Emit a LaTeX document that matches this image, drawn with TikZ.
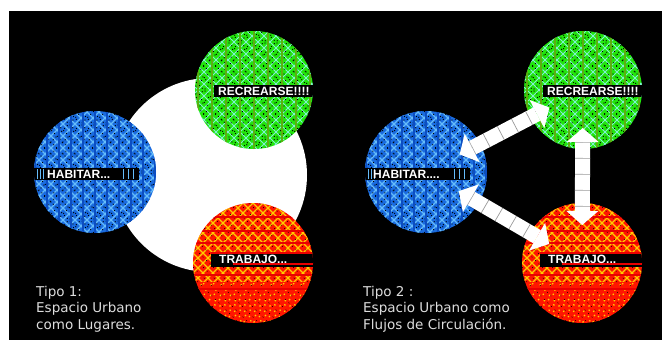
\documentclass[tikz,border=0pt]{standalone}
\usepackage{fontspec}
\usetikzlibrary{calc}
\newfontfamily\capfont{DejaVu Sans}
\newfontfamily\labfont{Liberation Sans}

\definecolor{grbase}{HTML}{22E60C}
\definecolor{grlight}{HTML}{7FF0D2}
\definecolor{grstripe}{HTML}{5CAE12}
\definecolor{blbase}{HTML}{1A6CE0}
\definecolor{bllight}{HTML}{66BCFA}
\definecolor{blstripe}{HTML}{0C4EC2}
\definecolor{rdbase}{HTML}{FF1600}
\definecolor{rdlight}{HTML}{FFCC00}
\definecolor{rdstripe}{HTML}{E80000}
\definecolor{capgray}{HTML}{DDDDDD}
\definecolor{sepgray}{HTML}{9A9A9A}

% green weave: cyan cross-hatch, olive vertical stripes
\newcommand\greenweave{%
  \begin{scope}[shift={(path picture bounding box.center)}]
    \fill[grbase] (-70,-70) rectangle (70,70);
    \foreach \k in {-140,-128,...,140}{
      \draw[grlight, line width=1pt] (\k-70,-70) -- (\k+70,70);
      \draw[grlight, line width=1pt] (\k-70,70) -- (\k+70,-70);}
    \foreach \k in {-134,-122,...,140}{
      \draw[black, line width=0.8pt, dash pattern=on 1pt off 3pt] (\k-70,-70) -- (\k+70,70);
      \draw[black, line width=0.8pt, dash pattern=on 1pt off 3pt] (\k-70,70) -- (\k+70,-70);}
    \foreach \k in {-56,-42,...,56} \draw[grstripe, line width=2.4pt] (\k,-70) -- (\k,70);
    \fill[black] (-40,-5) rectangle (70,7);
  \end{scope}}

% blue weave: light blue cross-hatch, dark blue vertical stripes
\newcommand\blueweave{%
  \begin{scope}[shift={(path picture bounding box.center)}]
    \fill[blbase] (-70,-70) rectangle (70,70);
    \foreach \k in {-140,-128,...,140}{
      \draw[bllight, line width=1.1pt] (\k-70,-70) -- (\k+70,70);
      \draw[bllight, line width=1.1pt] (\k-70,70) -- (\k+70,-70);}
    \foreach \k in {-134,-122,...,140}{
      \draw[black, line width=0.8pt, dash pattern=on 1pt off 3pt] (\k-70,-70) -- (\k+70,70);
      \draw[black, line width=0.8pt, dash pattern=on 1pt off 3pt] (\k-70,70) -- (\k+70,-70);}
    \foreach \k in {-60,-48,...,60} \draw[blstripe, line width=2.4pt] (\k,-70) -- (\k,70);
    \fill[black] (-62,-4) rectangle (44,8);
    \foreach \k in {-58,-55,-52,28,33,38} \draw[bllight, line width=0.8pt] (\k,-3) -- (\k,7);
  \end{scope}}

% red weave: yellow cross-hatch on top, red horizontal stripes
\newcommand\redweave{%
  \begin{scope}[shift={(path picture bounding box.center)}]
    \fill[rdbase] (-70,-70) rectangle (70,70);
    \begin{scope}
      \clip (-70,-70) rectangle (70,18);
      \foreach \k in {-140,-130,...,140}{
        \draw[rdlight, line width=1.3pt] (\k-70,-70) -- (\k+70,70);
        \draw[rdlight, line width=1.3pt] (\k-70,70) -- (\k+70,-70);}
    \end{scope}
    \begin{scope}
      \clip (-70,18) rectangle (70,70);
      \foreach \k in {-140,-130,...,140}{
        \draw[rdlight, line width=1.1pt, dash pattern=on 1.5pt off 6pt] (\k-70,-70) -- (\k+70,70);
        \draw[rdlight, line width=1.1pt, dash pattern=on 1.5pt off 6pt] (\k-70,70) -- (\k+70,-70);}
    \end{scope}
    \foreach \k in {-134,-124,...,140}{
      \draw[black, line width=0.7pt, dash pattern=on 1pt off 4pt] (\k-70,-70) -- (\k+70,70);}
    \foreach \y in {-46,-32,-20,12,26} \draw[rdstripe, line width=2.2pt] (-70,\y) -- (70,\y);
    \fill[black] (-42,-11) rectangle (70,4);
    \draw[rdstripe, line width=1.4pt] (-42,-10) -- (70,-10);
    \draw[rdstripe, line width=1.4pt] (-20,1) -- (70,1);
  \end{scope}}

\tikzset{
  zone/.style={circle, inner sep=0pt, minimum size=#1},
  greenzone/.style={zone=118pt, path picture={\greenweave}},
  bluezone/.style={zone=122pt, path picture={\blueweave}},
  redzone/.style={zone=120pt, path picture={\redweave}},
  lab/.style={text=white, inner sep=0pt, anchor=west,
    font=\labfont\bfseries\fontsize{12}{12}\selectfont},
  caption/.style={anchor=base west, inner sep=0pt, text=capgray,
    font=\capfont\fontsize{13.5}{16}\selectfont},
  chainband/.style={white, line width=15pt},
  chainsep/.style={sepgray, line width=15pt, dash pattern=on 0.7pt off 15.3pt},
}

% a block chain with an arrowhead at both ends, between two zones
\newcommand\flowlink[2]{%
  \coordinate (t1) at ($(#1)!38pt!(#2)$);
  \coordinate (t2) at ($(#2)!38pt!(#1)$);
  \coordinate (h1) at ($(#1)!52pt!(#2)$);
  \coordinate (h2) at ($(#2)!52pt!(#1)$);
  \draw[chainband] (h1) -- (h2);
  \draw[chainsep] (h1) -- (h2);
  \fill[white] (t1) -- ($(h1)!16pt!90:(t1)$) -- ($(h1)!16pt!-90:(t1)$) -- cycle;
  \fill[white] (t2) -- ($(h2)!16pt!90:(t2)$) -- ($(h2)!16pt!-90:(t2)$) -- cycle;
}

\begin{document}
\begin{tikzpicture}[x=1pt, y=-1pt]
  \useasboundingbox (0,0) rectangle (662,340);
  \fill[white] (0,0) rectangle (662,340);
  \fill[black] (9,11) rectangle (662,340);

  % Tipo 1: places
  \node[zone=194pt, fill=white] (blob) at (210,175) {};
  \node[greenzone] (rec1) at (254,90) {};
  \node[bluezone]  (hab1) at (95,172) {};
  \node[redzone]   (tra1) at (253,263) {};
  \node[lab] (lrec1) at ($(rec1)+(-36,1)$) {RECREARSE!!!!};
  \node[lab] (lhab1) at ($(hab1)+(-48,2)$) {HABITAR...};
  \node[lab] (ltra1) at ($(tra1)+(-34,-3.5)$) {TRABAJO...};

  % Tipo 2: flows
  \node[greenzone] (rec2) at (583,90) {};
  \node[bluezone]  (hab2) at (426,172) {};
  \node[redzone]   (tra2) at (582,263) {};
  \node[lab] (lrec2) at ($(rec2)+(-36,1)$) {RECREARSE!!!!};
  \node[lab] (lhab2) at ($(hab2)+(-53,2)$) {HABITAR....};
  \node[lab] (ltra2) at ($(tra2)+(-34,-3.5)$) {TRABAJO...};
  \flowlink{hab2}{rec2}
  \flowlink{rec2}{tra2}
  \flowlink{hab2}{tra2}

  % captions
  \node[caption] (c1a) at (36,296) {Tipo 1:};
  \node[caption] (c1b) at (36,312.5) {Espacio Urbano};
  \node[caption] (c1c) at (36,329) {como Lugares.};
  \node[caption] (c2a) at (363,296) {Tipo 2 :};
  \node[caption] (c2b) at (363,312.5) {Espacio Urbano como};
  \node[caption] (c2c) at (363,329) {Flujos de Circulación.};
\end{tikzpicture}
\end{document}
